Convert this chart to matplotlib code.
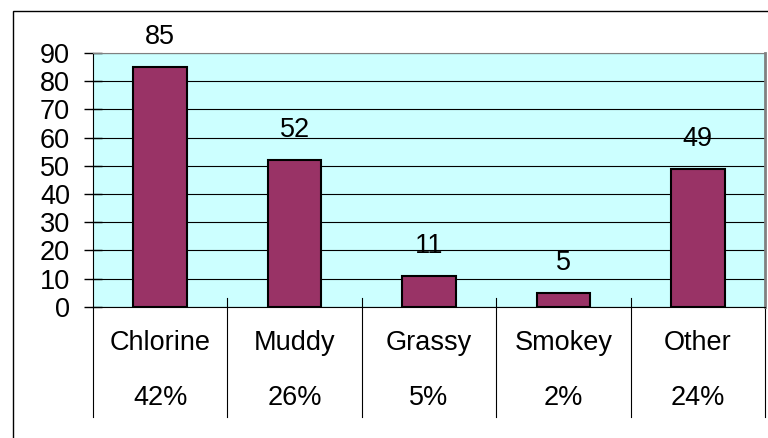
import matplotlib
matplotlib.use('Agg')
import matplotlib.pyplot as plt
from matplotlib.patches import Rectangle

plt.rcParams['font.family'] = ['Liberation Sans', 'DejaVu Sans']

# 数据
categories = ['Chlorine', 'Muddy', 'Grassy', 'Smokey', 'Other']
counts = [85, 52, 11, 5, 49]
percents = ['42%', '26%', '5%', '2%', '24%']
y_ticks = list(range(0, 100, 10))

W, H = 768, 438
FS = 19.5
fig = plt.figure(figsize=(W / 100, H / 100), dpi=100)

# 外框
fig.patches.append(Rectangle((13 / W, -0.1), 1.2, 1 - 11 / H + 0.1, transform=fig.transFigure,
                             fill=False, edgecolor='black', linewidth=1))

left, right, top, bottom = 93, 765, 53, 306.7
ax = fig.add_axes([left / W, 1 - bottom / H, (right - left) / W, (bottom - top) / H])
ax.set_facecolor('#CCFFFF')

x = [i + 0.5 for i in range(len(categories))]
ax.bar(x, counts, width=0.4, color='#993366', edgecolor='black', linewidth=1.5, zorder=3)
for xi, v in zip(x, counts):
    ax.annotate(str(v), (xi, v), xytext=(0, 21.5), textcoords='offset points',
                ha='center', va='center', fontsize=FS, zorder=4)

ax.set_xlim(0, len(categories))
ax.set_ylim(0, 90)
ax.set_yticks(y_ticks)
ax.tick_params(axis='y', direction='inout', length=13, width=1, labelsize=FS, pad=10)
ax.set_xticks([])
ax.yaxis.grid(True, color='black', linewidth=0.8, zorder=1)
ax.set_axisbelow(True)

ax.spines['left'].set_color('black')
ax.spines['bottom'].set_color('black')
ax.spines['top'].set_color('#808080')
ax.spines['right'].set_color('#808080')
ax.spines['right'].set_linewidth(2)

# 表格分隔线和标签
trans = ax.get_xaxis_transform()
for i in range(len(categories) + 1):
    y0 = 0.034 if 0 < i < len(categories) else 0
    ax.plot([i, i], [y0, -0.435], transform=trans, color='black', linewidth=0.8, clip_on=False)
for xi, c, p in zip(x, categories, percents):
    ax.text(xi, -0.143, c, transform=trans, ha='center', va='center', fontsize=FS)
    ax.text(xi, -0.36, p, transform=trans, ha='center', va='center', fontsize=FS)

fig.savefig('out.png', dpi=100)
